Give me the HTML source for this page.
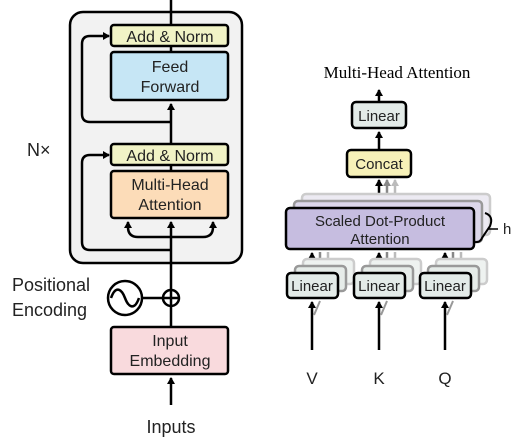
<!DOCTYPE html>
<html><head><style>html,body{margin:0;padding:0;background:#fff}svg{display:block}</style></head><body>
<svg width="517" height="438" viewBox="0 0 517 438" xmlns="http://www.w3.org/2000/svg" font-family="Liberation Sans, sans-serif">
<defs>
<marker id="a" markerWidth="8" markerHeight="8" refX="6" refY="4" orient="auto" markerUnits="userSpaceOnUse"><path d="M0,0 L7,4 L0,8 Z" fill="#000"/></marker>
<marker id="ag" markerWidth="8" markerHeight="8" refX="6" refY="4" orient="auto" markerUnits="userSpaceOnUse"><path d="M0,0 L7,4 L0,8 Z" fill="#888"/></marker>
<marker id="al" markerWidth="8" markerHeight="8" refX="6" refY="4" orient="auto" markerUnits="userSpaceOnUse"><path d="M0,0 L7,4 L0,8 Z" fill="#bbb"/></marker>
</defs>
<rect x="0" y="0" width="517" height="438" fill="#fff"/>
<rect x="70" y="12" width="172" height="251" rx="13" fill="#f2f2f2" stroke="#000" stroke-width="2.5"/>
<g stroke="#000" stroke-width="2.5" fill="none">
<line x1="171" y1="0" x2="171" y2="25"/>
<line x1="171" y1="46" x2="171" y2="52"/>
<line x1="171" y1="165" x2="171" y2="171"/>
<line x1="171" y1="144" x2="171" y2="104" marker-end="url(#a)"/>
<path d="M171,122 H90 Q82,122 82,114 V44 Q82,36 90,36 H109" marker-end="url(#a)"/>
<line x1="171" y1="290" x2="171" y2="222" marker-end="url(#a)"/>
<path d="M171,250 H90 Q82,250 82,242 V163 Q82,155 90,155 H109" marker-end="url(#a)"/>
<path d="M171,237 H138 Q128,237 128,227 V222" marker-end="url(#a)"/>
<path d="M171,237 H203 Q213,237 213,227 V222" marker-end="url(#a)"/>
<line x1="171" y1="327" x2="171" y2="306"/>
<line x1="171" y1="405" x2="171" y2="378" marker-end="url(#a)"/>
<line x1="142" y1="298" x2="163" y2="298"/>
<circle cx="125" cy="298" r="17"/>
<path d="M111,298 C116,284 122,290 125,298 C128,306 134,312 139,298"/>
<circle cx="171" cy="298" r="8" fill="#fff"/>
<line x1="163" y1="298" x2="179" y2="298"/><line x1="171" y1="290" x2="171" y2="306"/>
</g>
<g stroke="#000" stroke-width="2.5">
<rect x="111" y="25" width="117" height="21" rx="3" fill="#f1f3c6"/>
<rect x="111" y="52" width="117" height="48" rx="3" fill="#c6e6f5"/>
<rect x="111" y="144" width="117" height="21" rx="3" fill="#f1f3c6"/>
<rect x="111" y="171" width="117" height="47" rx="3" fill="#fcdcb8"/>
<rect x="111" y="327" width="117" height="47" rx="3" fill="#f9dadd"/>
</g>
<g font-size="16" fill="#222" text-anchor="middle">
<text x="170" y="42">Add &amp; Norm</text>
<text x="170" y="72">Feed</text><text x="170" y="92">Forward</text>
<text x="170" y="161">Add &amp; Norm</text>
<text x="170" y="190">Multi-Head</text><text x="170" y="210">Attention</text>
<text x="170" y="346">Input</text><text x="170" y="366">Embedding</text>
</g>
<g font-size="18" fill="#222">
<text x="27" y="156">N×</text>
<text x="12" y="291">Positional</text>
<text x="12" y="316">Encoding</text>
<text x="171" y="433" text-anchor="middle">Inputs</text>
</g>
<text x="397" y="78" text-anchor="middle" font-family="Liberation Serif, serif" font-size="17">Multi-Head Attention</text>
<g stroke-width="2.5" fill="none">
<line x1="379" y1="102" x2="379" y2="90" stroke="#000" marker-end="url(#a)"/>
<line x1="379" y1="150" x2="379" y2="132" stroke="#000" marker-end="url(#a)"/>
<line x1="395" y1="194" x2="395" y2="180" stroke="#bbb" marker-end="url(#al)"/>
<line x1="387" y1="201" x2="387" y2="180" stroke="#888" marker-end="url(#ag)"/>
<line x1="379" y1="208" x2="379" y2="180" stroke="#000" marker-end="url(#a)"/>
</g>
<rect x="302" y="194" width="188" height="41" rx="4" fill="#eceaf2" stroke="#ccc" stroke-width="2.5"/>
<rect x="294" y="201" width="188" height="41" rx="4" fill="#dcd7ea" stroke="#999" stroke-width="2.5"/>
<rect x="286" y="208" width="188" height="41" rx="4" fill="#c6bde0" stroke="#000" stroke-width="2.5"/>
<rect x="352" y="102" width="54" height="26" rx="4" fill="#e3ebe8" stroke="#000" stroke-width="2.5"/>
<rect x="347" y="150" width="64" height="27" rx="4" fill="#f7f1b8" stroke="#000" stroke-width="2.5"/>
<path d="M485,213 Q494,216 490,226 L482,238 Q480,243 474,242" stroke="#000" stroke-width="2" fill="none"/>
<line x1="488" y1="229" x2="498" y2="229" stroke="#000" stroke-width="1.5"/>
<text x="503" y="234" font-size="15" fill="#222">h</text>
<g font-size="15" fill="#222" text-anchor="middle">
<text x="379" y="121">Linear</text><text x="379" y="169">Concat</text>
<text x="380" y="226">Scaled Dot-Product</text><text x="380" y="244">Attention</text>
</g>
<g id="lin">
<line x1="328" y1="259" x2="328" y2="252" stroke="#bbb" stroke-width="2.5"/>
<line x1="320" y1="266" x2="320" y2="252" stroke="#888" stroke-width="2.5"/>
<line x1="312" y1="273" x2="312" y2="253" stroke="#000" stroke-width="2.5" marker-end="url(#a)"/>
<rect x="303" y="259" width="51" height="25" rx="4" fill="#eef2f0" stroke="#ccc" stroke-width="2.5"/>
<rect x="295" y="266" width="51" height="25" rx="4" fill="#e6ece9" stroke="#999" stroke-width="2.5"/>
<rect x="287" y="273" width="51" height="25" rx="4" fill="#e3ebe8" stroke="#000" stroke-width="2.5"/>
<text x="312" y="291" font-size="15" fill="#222" text-anchor="middle">Linear</text>
<line x1="312" y1="350" x2="312" y2="302" stroke="#000" stroke-width="2.5" marker-end="url(#a)"/>
<line x1="314" y1="315" x2="320" y2="301" stroke="#999" stroke-width="2"/>
</g>
<use href="#lin" x="67"/>
<use href="#lin" x="133"/>
<g font-size="17" fill="#222" text-anchor="middle">
<text x="312" y="384">V</text><text x="379" y="384">K</text><text x="445" y="384">Q</text>
</g>
</svg>
</body></html>
